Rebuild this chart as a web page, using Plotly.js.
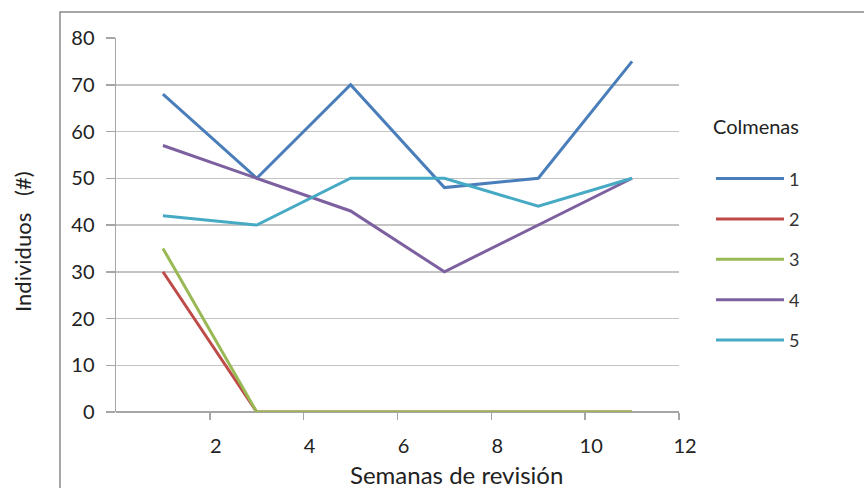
<!DOCTYPE html>
<html>
<head>
<meta charset="utf-8">
<script src="https://cdn.plot.ly/plotly-3.0.1.min.js"></script>
<style>html,body{margin:0;padding:0;background:#fff;}#chart{width:864px;height:488px;}</style>
</head>
<body>
<div id="chart"></div>
<script>
const semanas = [1, 3, 5, 7, 9, 11];
const colmena1 = [68, 50, 70, 48, 50, 75];
const colmena2 = [30, 0, 0, 0, 0, 0];
const colmena3 = [35, 0, 0, 0, 0, 0];
const colmena4 = [57, 50, 43, 30, 40, 50];
const colmena5 = [42, 40, 50, 50, 44, 50];
const seriesNames = ['1', '2', '3', '4', '5'];
const seriesColors = ['#4A7EBB', '#BE4B48', '#98B954', '#7D60A0', '#46AAC5'];
const allSeries = [colmena1, colmena2, colmena3, colmena4, colmena5];
const xTicks = [2, 4, 6, 8, 10, 12];

const FONT = 'Lato, "Open Sans", sans-serif';

const traces = allSeries.map((ys, i) => ({
  x: semanas,
  y: ys,
  type: 'scatter',
  mode: 'lines',
  name: seriesNames[i],
  legendgroup: 'g' + i,
  line: {color: seriesColors[i], width: 3}
}));

const layout = {
  width: 864,
  height: 488,
  margin: {l: 116, r: 185, t: 38, b: 76},
  paper_bgcolor: '#fff',
  plot_bgcolor: '#fff',
  font: {family: FONT, color: '#404040', size: 16},
  showlegend: true,
  legend: {
    x: 1.0568, xanchor: 'left', y: 0.812, yanchor: 'top',
    title: {text: 'Colmenas<br> ', font: {size: 20, color: '#222'}},
    font: {size: 18, color: '#333'},
    traceorder: 'grouped',
    tracegroupgap: 14,
    itemwidth: 68,
    bgcolor: 'rgba(0,0,0,0)'
  },
  xaxis: {
    range: [0, 12],
    tickvals: xTicks,
    ticktext: xTicks.map(String),
    showgrid: false,
    zeroline: false,
    showline: false,
    ticks: 'outside', ticklen: 7, tickcolor: '#a6a6a6', tickwidth: 1.5,
    tickfont: {size: 20, color: '#222'},
    ticklabelshift: 6,
    ticklabelstandoff: 9
  },
  yaxis: {
    range: [0, 80],
    dtick: 10,
    showgrid: true, gridcolor: '#c4c4c4', gridwidth: 1.5,
    zeroline: true, zerolinecolor: '#a6a6a6', zerolinewidth: 1.5,
    showline: true, linecolor: '#a6a6a6', linewidth: 1.5,
    ticks: 'outside', ticklen: 9, tickcolor: '#a6a6a6', tickwidth: 1.5,
    tickfont: {size: 20, color: '#222'},
    ticklabelstandoff: 7
  },
  annotations: [
    {
      text: 'Semanas de revisión', xref: 'paper', yref: 'paper',
      x: 0.604, y: -0.168, xanchor: 'center', yanchor: 'middle',
      showarrow: false, font: {size: 24, color: '#222'}
    },
    {
      text: 'Individuos\u00a0\u00a0\u00a0(#)', xref: 'paper', yref: 'paper',
      x: -0.165, y: 0.455, xanchor: 'center', yanchor: 'middle', textangle: -90,
      showarrow: false, font: {size: 22, color: '#222'}
    }
  ],
  shapes: [{
    type: 'rect', xref: 'paper', yref: 'paper',
    x0: -0.0995, x1: 1.6, y0: -0.4, y1: 1.0695,
    line: {color: '#8a8a8a', width: 1.5}, fillcolor: 'rgba(0,0,0,0)', layer: 'below'
  }]
};

Plotly.newPlot('chart', traces, layout, {displayModeBar: false, staticPlot: true});
</script>
</body>
</html>
